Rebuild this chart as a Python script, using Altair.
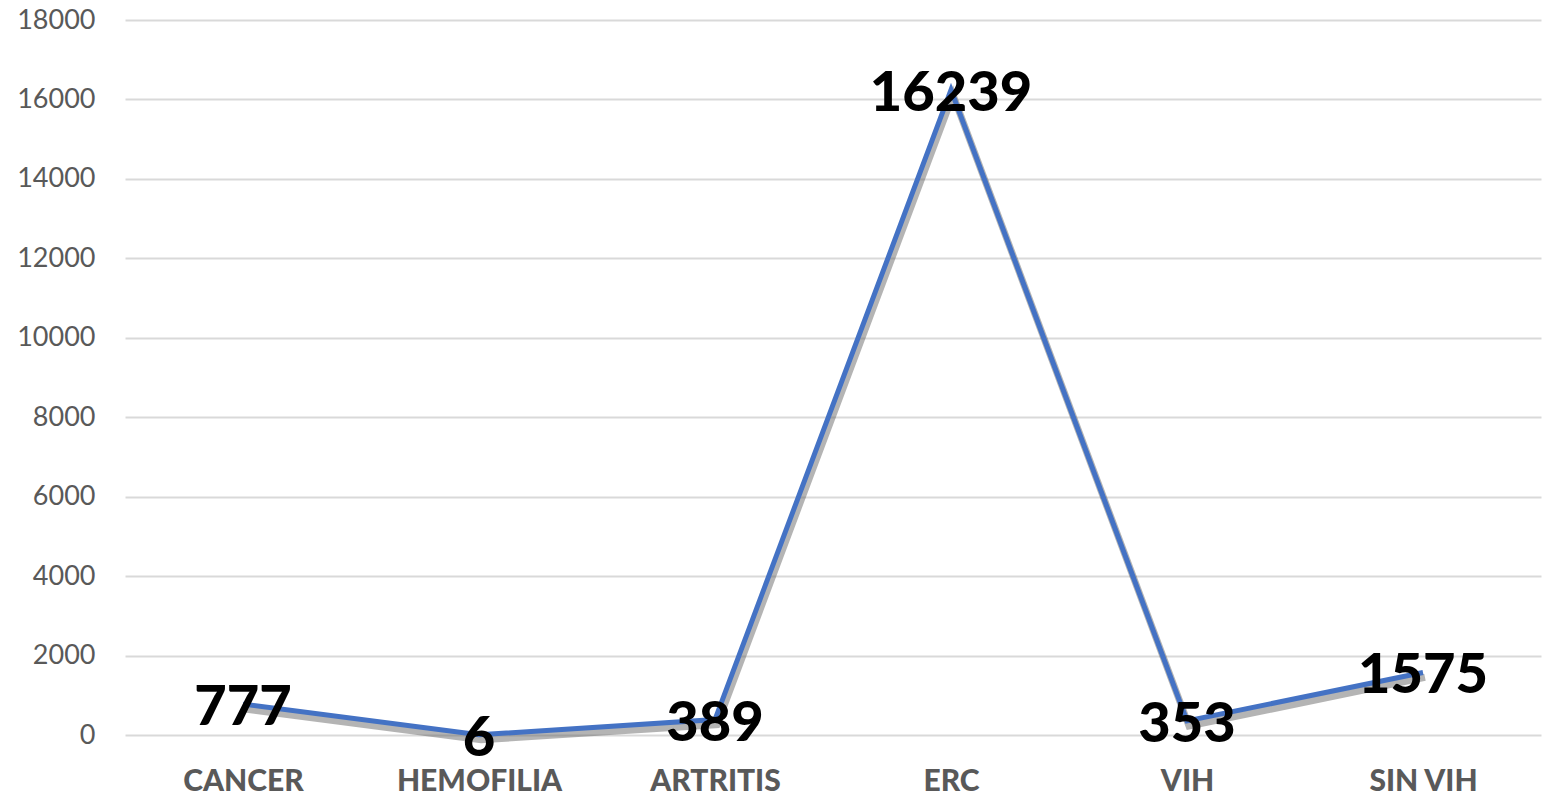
import altair as alt
import pandas as pd

categories = ["CANCER", "HEMOFILIA", "ARTRITIS", "ERC", "VIH", "SIN VIH"]
values = [777, 6, 389, 16239, 353, 1575]

df = pd.DataFrame({"cat": categories, "val": values})

FONT = "Lato"

x = alt.X("cat:N", sort=categories, title=None,
          scale=alt.Scale(paddingInner=0, paddingOuter=0.0),
          axis=alt.Axis(labelAngle=0, labelFontSize=30, labelFontWeight=900,
                        labelColor="#595959", labelFont=FONT, ticks=False,
                        domain=False, labelPadding=31, grid=False))
y = alt.Y("val:Q", title=None,
          scale=alt.Scale(domain=[0, 18000], nice=False),
          axis=alt.Axis(values=list(range(0, 18001, 2000)), format="d",
                        labelFontSize=27, labelColor="#595959", labelFont=FONT,
                        ticks=False, domain=False, labelPadding=30,
                        gridColor="#d9d9d9", gridWidth=2))

base = alt.Chart(df)

shadow = base.mark_line(color="#595959", opacity=0.45, strokeWidth=7,
                        xOffset=2, yOffset=5).encode(x=x, y=y)
line = base.mark_line(color="#4472C4", strokeWidth=5).encode(x=x, y=y)
labels = base.mark_text(fontSize=56, fontWeight=900, font=FONT, dy=4,
                        color="black", baseline="middle", align="center").encode(
    x=x, y=y, text="val:Q")

chart = alt.layer(shadow, line, labels).properties(
    width=1416, height=715,
    autosize=alt.AutoSizeParams(type="none"),
    padding={"left": 117, "top": 12, "right": 5, "bottom": 60},
).configure(background="white").configure_view(stroke=None, strokeWidth=0)

chart.save("out.html", embed_options={"renderer": "svg", "actions": False})
